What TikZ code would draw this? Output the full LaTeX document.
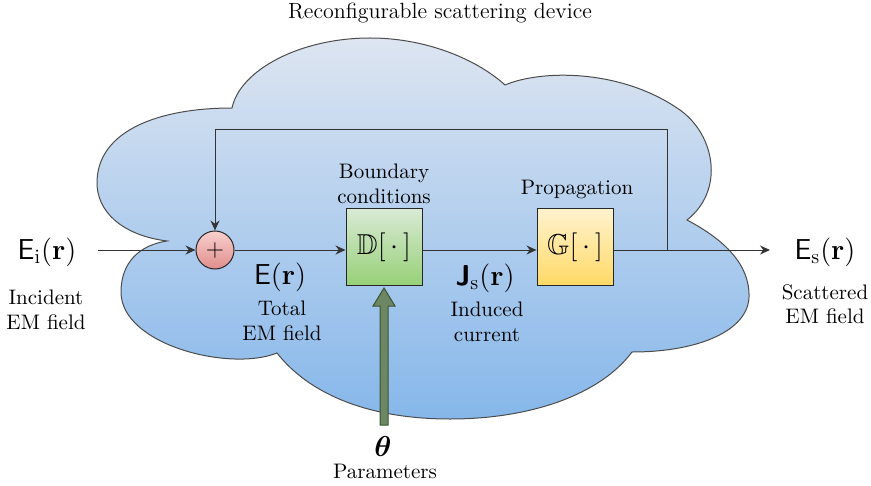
\documentclass[tikz,border=0pt]{standalone}
\usepackage{amsmath,amssymb}
\usetikzlibrary{calc,arrows.meta}

\definecolor{cloudtop}{HTML}{DDE5F1}
\definecolor{cloudbot}{HTML}{86B7EA}
\definecolor{greentop}{HTML}{D8EAD5}
\definecolor{greenbot}{HTML}{97D077}
\definecolor{yellowtop}{HTML}{FFF3CF}
\definecolor{yellowbot}{HTML}{FFD966}
\definecolor{redtop}{HTML}{F8D0CE}
\definecolor{redbot}{HTML}{E08E8C}
\definecolor{paramfill}{HTML}{6D8764}
\definecolor{paramline}{HTML}{3A5431}

\begin{document}
\begin{tikzpicture}[x=0.5pt,y=-0.5pt,
	txt/.style={align=center, inner sep=1pt, font=\fontsize{10.5}{12.2}\selectfont},
	big/.style={font=\Large, inner sep=1pt},
	block/.style={draw=black!85, line width=0.5pt, minimum width=38pt, minimum height=38.5pt, inner sep=0pt, font=\Large},
	wire/.style={draw=black!80, line width=0.5pt, >={Stealth[length=5pt,width=4.5pt]}},
	]
	\useasboundingbox (0,0) rectangle (871,486);

	% cloud
	\path[draw=black!70, line width=0.5pt, top color=cloudtop, bottom color=cloudbot]
		(232,108) .. controls (240,70) and (300,38) .. (370,38)
		.. controls (430,38) and (480,62) .. (505,85)
		.. controls (540,70) and (620,68) .. (680,110)
		.. controls (715,135) and (725,190) .. (687,220)
		.. controls (725,240) and (750,265) .. (749,297)
		.. controls (748,330) and (700,352) .. (632,352)
		.. controls (600,395) and (530,419) .. (450,419)
		.. controls (370,419) and (310,395) .. (277,353)
		.. controls (230,372) and (121,345) .. (121,292)
		.. controls (121,262) and (140,245) .. (167,241)
		.. controls (120,235) and (97,210) .. (97,183)
		.. controls (97,130) and (160,108) .. (232,108)
		-- cycle;

	\node[txt, font=\fontsize{11}{13}\selectfont] at (440,13) (title) {Reconfigurable scattering device};

	% blocks
	\node[circle, draw=black!85, line width=0.5pt, minimum size=19pt, inner sep=0pt, top color=redtop, bottom color=redbot] at (215,250) (sum) {\large$+$};
	\node[block, top color=greentop, bottom color=greenbot] at (384,247) (D) {$\mathbb{D}[\,\cdot\,]$};
	\node[block, top color=yellowtop, bottom color=yellowbot] at (575,247) (G) {$\mathbb{G}[\,\cdot\,]$};
	\node[txt] at (384,184) (Dlbl) {Boundary\\conditions};
	\node[txt] at (577,189) (Glbl) {Propagation};

	% labels
	\node[big] at (47,252) (Ei) {$\mathsf{E}_{\mathrm{i}}(\mathbf{r})$};
	\node[txt] at (46,310) (Eilbl) {Incident\\EM field};
	\node[big] at (280,277) (Et) {$\mathsf{E}(\mathbf{r})$};
	\node[txt] at (282,321) (Etlbl) {Total\\EM field};
	\node[big] at (485,278) (Js) {$\boldsymbol{\mathsf{J}}_{\mathrm{s}}(\mathbf{r})$};
	\node[txt] at (487,322) (Jslbl) {Induced\\current};
	\node[big] at (825,252) (Es) {$\mathsf{E}_{\mathrm{s}}(\mathbf{r})$};
	\node[txt] at (825,304) (Eslbl) {Scattered\\EM field};
	\node[font=\Large, inner sep=1pt] at (383,446) (theta) {$\boldsymbol{\theta}$};
	\node[txt] at (385,471) (par) {Parameters};

	\coordinate (inc) at (98,250);
	\coordinate (tap) at (667,250);
	\coordinate (fb) at (667,130);
	\coordinate (out) at (770,250);
	\coordinate (pbase) at (D.south |- 0,425);
	\coordinate (ptip) at ($(D.south)+(0,2)$);

	% signal path
	\draw[wire,->] (inc) -- (sum);
	\draw[wire,->] (sum) -- (sum -| D.west);
	\draw[wire,->] (sum -| D.east) -- (sum -| G.west);
	\draw[wire,->] (sum -| G.east) -- (out);
	\draw[wire,->] (tap) -- (fb) -| (sum);

	% parameter input
	\draw[draw=paramline, fill=paramfill, line width=0.5pt]
		($(pbase)+(-4,0)$) -- ($(ptip)+(-4,18)$) -- ($(ptip)+(-11,18)$) -- (ptip)
		-- ($(ptip)+(11,18)$) -- ($(ptip)+(4,18)$) -- ($(pbase)+(4,0)$) -- cycle;
\end{tikzpicture}
\end{document}
